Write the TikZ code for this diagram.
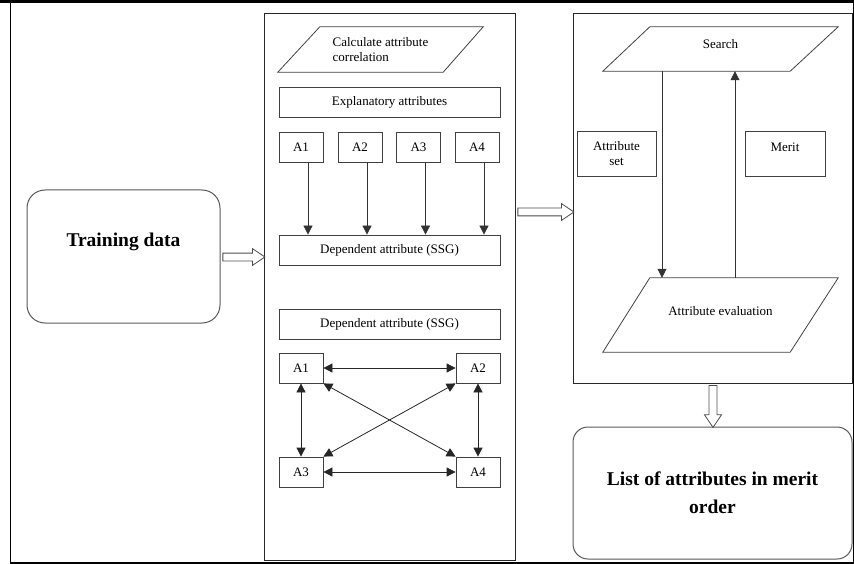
\documentclass[tikz,border=0pt]{standalone}
\usepackage{fontspec}
\setmainfont{Liberation Serif}
\usetikzlibrary{arrows.meta,shapes.arrows,positioning}

\begin{document}
\begin{tikzpicture}[x=1pt, y=-1pt,
        box/.style={draw=black!75, line width=0.8pt, inner sep=1pt, font=\fontsize{13}{15}\selectfont},
        abox/.style={box, minimum width=44pt, minimum height=30pt},
        bar/.style={box, minimum width=221pt, minimum height=30pt},
        ptext/.style={inner sep=0pt, font=\fontsize{13}{15}\selectfont},
        pline/.style={draw=black!75, line width=0.8pt, line join=miter},
        panel/.style={draw=black!85, line width=0.8pt, inner sep=0pt},
        terminal/.style={draw=black!65, line width=1pt, rounded corners=18pt, inner sep=0pt},
        bigtext/.style={font=\fontsize{19.5}{28}\selectfont\bfseries, align=center},
        flow/.style={draw=black!80, line width=0.8pt, -{Triangle[length=9pt, width=9pt]}},
        link/.style={draw=black!85, line width=0.8pt, {Triangle[length=9pt, width=9pt]}-{Triangle[length=9pt, width=9pt]}},
        hollow/.style={single arrow, draw=black!70, line width=0.8pt, minimum width=16pt, single arrow head extend=4.5pt, single arrow tip angle=68, inner sep=3.5pt}
    ]
        \useasboundingbox (0,0) rectangle (854,564);
        % Page frame
        \draw[line width=1pt] (10,2) rectangle (853,562);
        \draw[line width=2.5pt] (0,1.5) -- (854,1.5);
        \draw[line width=2pt] (10,562.5) -- (854,562.5);

        % Input
        \node[terminal, bigtext, minimum width=193pt, minimum height=133pt, text depth=33pt] (train) at (123.5,256.5) {Training data};

        % Panels
        \node[panel, minimum width=251pt, minimum height=547pt] (calcpanel) at (389.5,286.5) {};
        \node[panel, minimum width=279pt, minimum height=370pt] (searchpanel) at (712.5,198) {};
        \node[terminal, bigtext, minimum width=279pt, minimum height=132pt, rounded corners=15pt] (result) at (712.5,493) {List of attributes in merit\\order};

        % Correlation panel, upper part
        \node[ptext, minimum width=205pt, minimum height=45pt, align=left] (corr) at (380.5,49.5) {Calculate attribute\\correlation};
        \draw[pline] (corr.south west) -- ([xshift=42pt]corr.north west) -- (corr.north east) -- ([xshift=-40pt]corr.south east) -- cycle;
        \node[bar] (expl) at (389.5,102) {Explanatory attributes};
        \foreach \i/\x in {1/301, 2/360, 3/418.5, 4/477}
            \node[abox] (ea\i) at (\x,147) {A\i};
        \node[bar] (dep) at (389.5,250) {Dependent attribute (SSG)};
        \foreach \i in {1,...,4}
            \draw[flow] ([xshift=7pt]ea\i.south) -- ([xshift=7pt]ea\i.south |- dep.north);

        % Correlation panel, lower part
        \node[bar] (depb) at (389.5,324) {Dependent attribute (SSG)};
        \node[abox] (da1) at (301,368) {A1};
        \node[abox] (da2) at (478,368) {A2};
        \node[abox] (da3) at (301,472) {A3};
        \node[abox] (da4) at (478,472) {A4};
        \draw[link] (da1) -- (da2);
        \draw[link] (da3) -- (da4);
        \draw[link] (da1) -- (da3);
        \draw[link] (da2) -- (da4);
        \draw[link] (da1.south east) -- (da4.north west);
        \draw[link] (da2.south west) -- (da3.north east);

        % Search panel
        \node[ptext, minimum width=235pt, minimum height=44pt, text depth=10pt] (search) at (720.5,49) {Search};
        \draw[pline] (search.south west) -- ([xshift=47pt]search.north west) -- (search.north east) -- ([xshift=-48pt]search.south east) -- cycle;
        \node[box, minimum width=79pt, minimum height=45pt, align=center] (attrset) at (616.5,153.5) {Attribute\\set};
        \node[box, minimum width=80pt, minimum height=45pt, text depth=13pt] (merit) at (785,153.5) {Merit};
        \node[ptext, minimum width=235pt, minimum height=74pt, text depth=8pt] (eval) at (720.5,315) {Attribute evaluation};
        \draw[pline] (eval.south west) -- ([xshift=47pt]eval.north west) -- (eval.north east) -- ([xshift=-48pt]eval.south east) -- cycle;
        \draw[flow] ([xshift=-58.5pt]search.south) -- ([xshift=-58.5pt]search.south |- eval.north);
        \draw[flow] ([xshift=14.5pt]eval.north) -- ([xshift=14.5pt]eval.north |- search.south);

        % Hollow arrows between stages
        \node[hollow, minimum height=42pt] (feedcalc) at (241,257) {};
        \node[hollow, minimum height=56pt] (feedsearch) at (543,212) {};
        \node[hollow, minimum height=42pt, minimum width=17pt, shape border rotate=270] (feedresult) at (713,403.5) {};
    \end{tikzpicture}
\end{document}
